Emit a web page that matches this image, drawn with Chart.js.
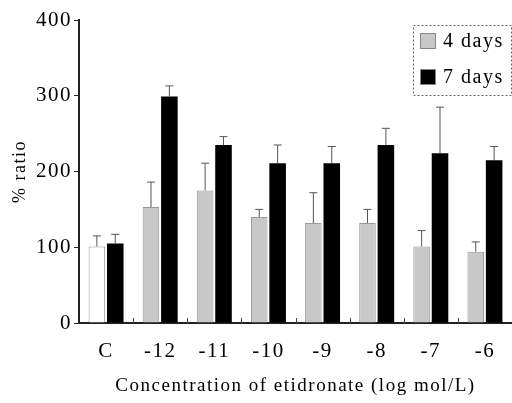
<!DOCTYPE html>
<html>
<head>
<meta charset="utf-8">
<script src="https://cdn.jsdelivr.net/npm/chart.js@4/dist/chart.umd.min.js"></script>
<style>
  html, body { margin:0; padding:0; background:#fff; }
  #wrap { width:512px; height:403px; }
</style>
</head>
<body>
<div id="wrap"><canvas id="c"></canvas></div>
<script>
const categories = ['C', '-12', '-11', '-10', '-9', '-8', '-7', '-6'];
const days4      = [101, 153, 175, 140, 132, 132, 101, 94];
const days4Sd    = [14, 33, 36, 10, 40, 18, 21, 13];
const days7      = [105, 299, 235, 211, 211, 235, 224, 215];
const days7Sd    = [12, 14, 11, 24, 22, 22, 61, 18];
const yTicks     = [0, 100, 200, 300, 400];

const serif = '"Liberation Serif", "DejaVu Serif", serif';

// the original type is set wide; canvas state is reset on resize so set it each time
const spacing = {
  id: 'spacing',
  beforeLayout(chart) { chart.ctx.letterSpacing = '1.5px'; },
  beforeDraw(chart)   { chart.ctx.letterSpacing = '1.5px'; }
};

// error bars: up only, with a small cap
const errorBars = {
  id: 'errorBars',
  afterDatasetsDraw(chart) {
    const { ctx, scales: { y } } = chart;
    const sds = [days4Sd, days7Sd];
    ctx.save();
    ctx.strokeStyle = '#555';
    ctx.lineWidth = 1;
    chart.data.datasets.forEach((ds, di) => {
      chart.getDatasetMeta(di).data.forEach((bar, i) => {
        const top = y.getPixelForValue(ds.data[i] + sds[di][i]);
        ctx.beginPath();
        ctx.moveTo(bar.x, bar.y);
        ctx.lineTo(bar.x, top);
        ctx.moveTo(bar.x - 4, top);
        ctx.lineTo(bar.x + 4, top);
        ctx.stroke();
      });
    });
    ctx.restore();
  }
};

// small marks between groups, pointing up from the x axis
const groupMarks = {
  id: 'groupMarks',
  afterDatasetsDraw(chart) {
    const { ctx, scales: { x }, chartArea } = chart;
    ctx.save();
    ctx.strokeStyle = '#444';
    ctx.lineWidth = 1;
    for (let i = 1; i < categories.length; i++) {
      const px = Math.round((x.getPixelForValue(i - 1) + x.getPixelForValue(i)) / 2) + 0.5;
      ctx.beginPath();
      ctx.moveTo(px, chartArea.bottom);
      ctx.lineTo(px, chartArea.bottom - 5);
      ctx.stroke();
    }
    ctx.restore();
  }
};

// boxed legend in the top right corner
const boxLegend = {
  id: 'boxLegend',
  afterDraw(chart) {
    const { ctx, chartArea } = chart;
    const w = 98, h = 70;
    const left = chartArea.right - w - 1, top = chartArea.top + 5;
    ctx.save();
    ctx.setLineDash([2, 2]);
    ctx.strokeStyle = '#666';
    ctx.lineWidth = 1;
    ctx.strokeRect(left + 0.5, top + 0.5, w, h);
    ctx.setLineDash([]);
    ctx.font = '20px ' + serif;
    ctx.textBaseline = 'middle';
    chart.data.datasets.forEach((ds, i) => {
      const cy = top + 16 + i * 36;
      ctx.fillStyle = i === 0 ? '#c8c8c8' : '#000';
      ctx.fillRect(left + 7, cy - 8, 16, 16);
      ctx.strokeStyle = '#888';
      ctx.strokeRect(left + 7.5, cy - 7.5, 15, 15);
      ctx.fillStyle = '#000';
      ctx.fillText(ds.label, left + 30, cy + 1);
    });
    ctx.restore();
  }
};

new Chart(document.getElementById('c'), {
  type: 'bar',
  data: {
    labels: categories,
    datasets: [{
      label: '4 days',
      data: days4,
      backgroundColor: days4.map((v, i) => i === 0 ? '#ffffff' : '#c8c8c8'),
      borderColor: '#999',
      borderWidth: 1,
      categoryPercentage: 0.68,
      barPercentage: 0.9
    }, {
      label: '7 days',
      data: days7,
      backgroundColor: '#000',
      borderColor: '#000',
      borderWidth: 0,
      categoryPercentage: 0.68,
      barPercentage: 0.9
    }]
  },
  options: {
    responsive: true,
    maintainAspectRatio: false,
    animation: false,
    layout: { padding: { top: 20, right: 0, left: 0, bottom: 0 } },
    plugins: {
      legend: { display: false },
      tooltip: { enabled: false }
    },
    scales: {
      x: {
        grid: { display: false, drawTicks: false },
        border: { color: '#222', width: 2 },
        ticks: { color: '#000', font: { family: serif, size: 21 }, padding: 16 },
        title: {
          display: true,
          text: 'Concentration of etidronate (log mol/L)',
          color: '#000',
          font: { family: serif, size: 19 },
          padding: { top: 10, bottom: 6 }
        },
        afterFit: s => { s.height = 80; }
      },
      y: {
        min: 0, max: 400,
        afterBuildTicks: s => { s.ticks = yTicks.map(v => ({ value: v })); },
        grid: { drawOnChartArea: false, tickLength: 5, color: '#222' },
        border: { color: '#222', width: 2 },
        ticks: { color: '#000', font: { family: serif, size: 21 }, padding: 2 },
        title: {
          display: true,
          text: '% ratio',
          color: '#000',
          font: { family: serif, size: 18 },
          padding: { top: 9, bottom: 0 }
        },
        afterFit: s => { s.width = 79; }
      }
    }
  },
  plugins: [spacing, errorBars, groupMarks, boxLegend]
});
</script>
</body>
</html>
